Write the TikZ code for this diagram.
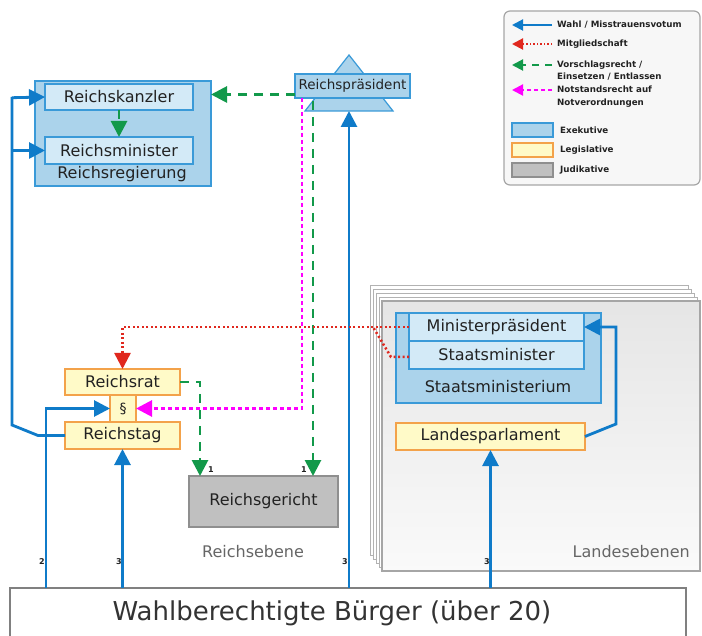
\documentclass[tikz,border=0pt]{standalone}
\usepackage{fontspec}
\setmainfont{DejaVu Sans}
\usetikzlibrary{arrows.meta,shapes.geometric}
\definecolor{exfill}{HTML}{ABD3EB}
\definecolor{exin}{HTML}{D3EAF7}
\definecolor{exborder}{HTML}{3A9AD8}
\definecolor{legfill}{HTML}{FFFAC8}
\definecolor{legborder}{HTML}{F3A24A}
\definecolor{judfill}{HTML}{C0C0C0}
\definecolor{judborder}{HTML}{8F8F8F}
\definecolor{wahl}{HTML}{0F7BC9}
\definecolor{mitg}{HTML}{E0281E}
\definecolor{vors}{HTML}{12994A}
\definecolor{notst}{HTML}{FF00FF}
\definecolor{txt}{HTML}{222222}
\begin{document}
\begin{tikzpicture}[x=1pt,y=-1pt,
  box/.style={inner sep=0pt, outer sep=0pt, line width=1.2pt, text=txt, font=\fontsize{16}{19}\selectfont},
  exo/.style={box, draw=exborder, fill=exfill},
  exi/.style={box, draw=exborder, fill=exin},
  legi/.style={box, draw=legborder, fill=legfill},
  judi/.style={box, draw=judborder, fill=judfill},
  bigtip/.style={-{Triangle[length=16pt,width=16pt]}},
  wahlline/.style={draw=wahl, line width=2.8pt},
  wahlarrow/.style={wahlline, bigtip},
  mitgarrow/.style={draw=mitg, line width=2.5pt, dash pattern=on 2pt off 2.5pt, bigtip},
  mitgline/.style={draw=mitg, line width=2.5pt, dash pattern=on 2pt off 2.5pt},
  vorsarrow/.style={draw=vors, line width=2.8pt, dash pattern=on 9pt off 7pt, bigtip},
  notstarrow/.style={draw=notst, line width=2.8pt, dash pattern=on 4pt off 3pt, bigtip},
  lbl/.style={inner sep=0pt, text=txt},
  numlbl/.style={inner sep=0pt, text=txt, font=\bfseries\fontsize{8}{9}\selectfont},
  legtxt/.style={inner sep=0pt, anchor=west, align=left, text=txt, font=\bfseries\fontsize{8.7}{12.5}\selectfont},
  sheet/.style={draw=black!30, fill=white, line width=0.8pt}
]
\useasboundingbox (0,0) rectangle (702,636);
\fill[white] (0,0) rectangle (702,636);

% Landesebenen stacked sheets
\foreach \i in {0,1,2,3} {
  \draw[sheet] (370+3*\i,285+4*\i) rectangle (688+3*\i,555+4*\i);
}
\shade[top color=black!10, bottom color=black!2] (382,301) rectangle (700,571);
\draw[draw=black!35, line width=1.2pt] (382,301) rectangle (700,571);
\node[lbl, anchor=east, text=black!60, font=\fontsize{16}{19}\selectfont] (landlbl) at (690,552) {Landesebenen};
\node[lbl, text=black!60, font=\fontsize{16}{19}\selectfont] (reichlbl) at (253,552) {Reichsebene};

% Legend
\draw[draw=black!35, fill=black!3, line width=1.2pt, rounded corners=6pt] (504,11) rectangle (700,185);
\coordinate (l1a) at (552,25); \coordinate (l1b) at (512,25);
\coordinate (l2a) at (552,44); \coordinate (l2b) at (512,44);
\coordinate (l3a) at (552,65); \coordinate (l3b) at (512,65);
\coordinate (l4a) at (552,90); \coordinate (l4b) at (512,90);
\draw[draw=wahl, line width=2pt, -{Triangle[length=11pt,width=11pt]}] (l1a) -- (l1b);
\draw[draw=mitg, line width=2pt, dash pattern=on 1.5pt off 2pt, -{Triangle[length=11pt,width=11pt]}] (l2a) -- (l2b);
\draw[draw=vors, line width=2pt, dash pattern=on 7pt off 6pt, -{Triangle[length=11pt,width=11pt]}] (l3a) -- (l3b);
\draw[draw=notst, line width=2pt, dash pattern=on 4pt off 3pt, -{Triangle[length=11pt,width=11pt]}] (l4a) -- (l4b);
\node[legtxt] (t1) at (557,25) {Wahl / Misstrauensvotum};
\node[legtxt] (t2) at (557,44) {Mitgliedschaft};
\node[legtxt] (t3) at (557,70.5) {Vorschlagsrecht /\\Einsetzen / Entlassen};
\node[legtxt] (t4) at (557,96.5) {Notstandsrecht auf\\Notverordnungen};
\node[exo, minimum width=41pt, minimum height=14pt] (s1) at (532.5,130) {};
\node[legi, minimum width=41pt, minimum height=14pt] (s2) at (532.5,150) {};
\node[judi, minimum width=41pt, minimum height=14pt] (s3) at (532.5,170) {};
\node[legtxt] (t5) at (560,130) {Exekutive};
\node[legtxt] (t6) at (560,150) {Legislative};
\node[legtxt] (t7) at (560,170) {Judikative};

% Reichsregierung
\node[exo, minimum width=176pt, minimum height=105pt] (rr) at (123,133.5) {};
\node[exi, minimum width=148pt, minimum height=26pt] (rk) at (119,97) {Reichskanzler};
\node[exi, minimum width=148pt, minimum height=27pt] (rm) at (119,150.5) {Reichsminister};
\node[lbl, font=\fontsize{16}{19}\selectfont] (rrlbl) at (122,174) {Reichsregierung};

% Reichspraesident
\draw[draw=exborder, fill=exfill, line width=1.2pt] (349,55) -- (393,111) -- (305,111) -- cycle;
\coordinate (tribase) at (349,111);
\node[exo, minimum width=115pt, minimum height=24pt, font=\fontsize{13.5}{16}\selectfont] (rp) at (352.5,86) {Reichspräsident};

% Reichsrat / Reichstag
\node[legi, minimum width=115pt, minimum height=26pt] (rrat) at (122.5,382) {Reichsrat};
\node[legi, minimum width=26pt, minimum height=27pt, font=\fontsize{14}{16}\selectfont] (para) at (123,408.5) {§};
\node[legi, minimum width=115pt, minimum height=27pt] (rtag) at (122.5,435.5) {Reichstag};

% Reichsgericht
\node[judi, minimum width=149pt, minimum height=51pt] (rg) at (263.5,501.5) {Reichsgericht};

% Staatsministerium
\node[exo, minimum width=205pt, minimum height=90pt] (sm) at (498.5,358) {};
\node[exi, minimum width=175pt, minimum height=28pt] (mp) at (496.5,327) {Ministerpräsident};
\node[exi, minimum width=175pt, minimum height=28pt] (stm) at (496.5,355) {Staatsminister};
\node[lbl, font=\fontsize{16}{19}\selectfont] (smlbl) at (498,387) {Staatsministerium};
\node[legi, minimum width=189pt, minimum height=27pt] (lp) at (490.5,436.5) {Landesparlament};

% Buerger
\fill[white] (10,588) rectangle (686,645);
\draw[draw=black!50, line width=1.2pt] (10,645) -- (10,588) -- (686,588) -- (686,645);
\node[lbl, text=black!80, font=\fontsize{26}{31}\selectfont] (bu) at (332,613) {Wahlberechtigte Bürger (über 20)};
\coordinate (b1) at (46,588);
\coordinate (b2) at (122.5,588);
\coordinate (b3) at (349,588);
\coordinate (b4) at (490.5,588);

% Wahl connectors
\draw[wahlline] (rtag.west) -- (38,435.5) -- (12,425) -- (12,97);
\draw[wahlarrow] (12,97.7) -- (rk.west);
\draw[wahlarrow] (12,150.5) -- (rm.west);
\draw[wahlarrow] (b1) -- (46,408.5) -- (para.west);
\draw[wahlarrow] (b2) -- (rtag.south);
\draw[wahlarrow] (b3) -- (tribase);
\draw[wahlarrow] (b4) -- (lp.south);
\draw[wahlarrow] (lp.east) -- (616,424) -- (616,327) -- (mp.east);

% Vorschlagsrecht
\draw[vorsarrow] (295,94.5) -- (rr.east |- 0,94.5);
\draw[vorsarrow] (rk.south) -- (rm.north);
\draw[vorsarrow] (rrat.east) -- (200,382) -- (rg.north -| 200,0);
\draw[vorsarrow] (313,101) -- (rg.north -| 313,0);

% Notstandsrecht
\draw[notstarrow] (302,98) -- (302,408.5) -- (para.east);

% Mitgliedschaft
\draw[mitgarrow] (mp.west) -- (122.5,327) -- (rrat.north);
\draw[mitgline] (stm.west) ++(0,2) -- (391,357) -- (373,327);

% numbers
\node[numlbl] (n1) at (42,562) {2};
\node[numlbl] (n2) at (119,562) {3};
\node[numlbl] (n3) at (345,562) {3};
\node[numlbl] (n4) at (487,562) {3};
\node[numlbl] (n5) at (211,470) {1};
\node[numlbl] (n6) at (304,470) {1};
\end{tikzpicture}
\end{document}
